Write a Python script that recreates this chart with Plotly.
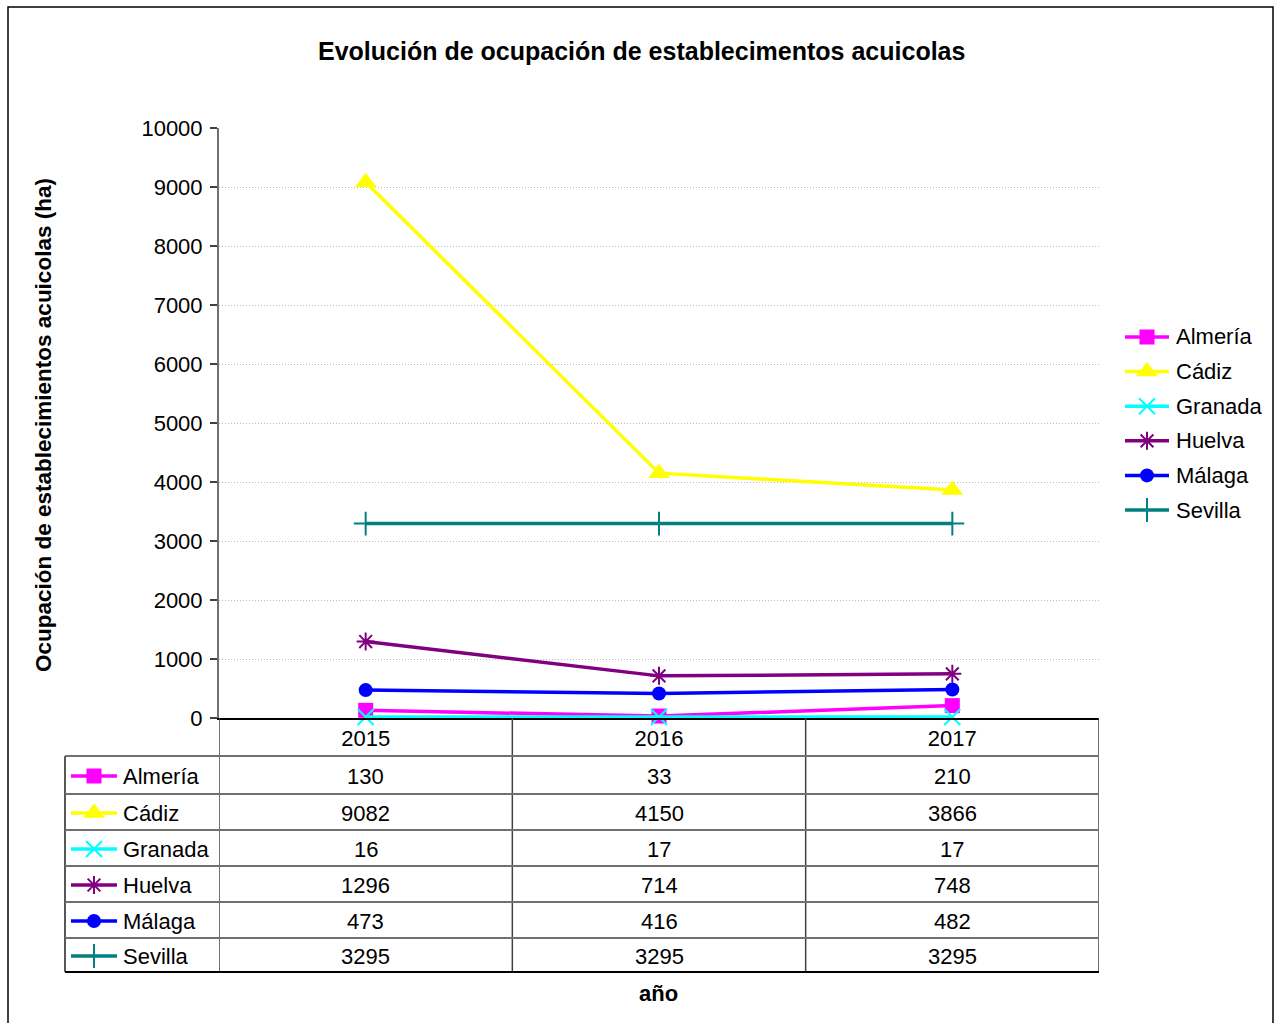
import plotly.graph_objects as go

# ---------------- data ----------------
years = ["2015", "2016", "2017"]
provinces = ["Almería", "Cádiz", "Granada", "Huelva", "Málaga", "Sevilla"]
almeria = [130, 33, 210]
cadiz = [9082, 4150, 3866]
granada = [16, 17, 17]
huelva = [1296, 714, 748]
malaga = [473, 416, 482]
sevilla = [3295, 3295, 3295]
series = [almeria, cadiz, granada, huelva, malaga, sevilla]

colors = ["#FF00FF", "#FFFF00", "#00FFFF", "#800080", "#0000FF", "#008080"]
symbols = ["square", "triangle-up", "x-thin", "asterisk", "circle", "cross-thin"]
msizes = [15, 19, 16, 15, 14, 17]
outline_only = [False, False, True, True, False, True]

title_text = "Evolución de ocupación de establecimentos acuicolas"
ytitle_text = "Ocupación de establecimientos acuicolas (ha)"
xtitle_text = "año"

# ---------------- layout helpers ----------------
W, H = 1277, 1023
FONT = "Liberation Sans, Arial, sans-serif"
TXT = 22


def px(x):
    return x / W


def py(y):
    return 1 - y / H


plot_left, plot_right, plot_top, plot_bottom = 219, 1099, 128, 718
row_bounds = [756, 794, 830, 866, 902, 938, 972]
table_left = 65


def marker_style(i):
    if outline_only[i]:
        return dict(symbol=symbols[i], size=msizes[i], color=colors[i],
                    line=dict(color=colors[i], width=2))
    return dict(symbol=symbols[i], size=msizes[i], color=colors[i],
                line=dict(width=0))


fig = go.Figure()

for i, name in enumerate(provinces):
    fig.add_trace(go.Scatter(
        x=years, y=series[i], name=name, mode="lines+markers",
        line=dict(color=colors[i], width=3.5),
        marker=marker_style(i), cliponaxis=False, showlegend=False,
        xaxis="x", yaxis="y",
    ))

shapes = []
annotations = []

# outer border
shapes.append(dict(type="rect", xref="paper", yref="paper",
                   x0=px(8), x1=px(1273), y0=py(1030), y1=py(7),
                   line=dict(color="black", width=1.5)))

# table vertical lines
for xv in [-0.5, 0.5, 1.5, 2.5]:
    shapes.append(dict(type="line", xref="x", yref="paper", x0=xv, x1=xv,
                       y0=py(plot_bottom), y1=py(row_bounds[-1]),
                       line=dict(color="#404040", width=1.5)))
shapes.append(dict(type="line", xref="paper", yref="paper",
                   x0=px(table_left), x1=px(table_left),
                   y0=py(row_bounds[0]), y1=py(row_bounds[-1]),
                   line=dict(color="#202020", width=1.5)))
# table horizontal lines
for k, yb in enumerate(row_bounds):
    last = k == len(row_bounds) - 1
    shapes.append(dict(type="line", xref="paper", yref="paper",
                       x0=px(table_left), x1=px(plot_right), y0=py(yb), y1=py(yb),
                       line=dict(color="black" if last else "#707070",
                                 width=2 if last else 1.8)))

key_traces = []

# table rows: keys, labels, values
for i, name in enumerate(provinces):
    yc = (row_bounds[i] + row_bounds[i + 1]) / 2 + 1
    shapes.append(dict(type="line", xref="paper", yref="paper",
                       x0=px(71), x1=px(117), y0=py(yc), y1=py(yc),
                       line=dict(color=colors[i], width=3.5)))
    key_traces.append((i, 94, yc))
    annotations.append(dict(xref="paper", yref="paper", x=px(121), y=py(yc),
                            text=name, showarrow=False, xanchor="left", yanchor="middle",
                            font=dict(family=FONT, size=TXT, color="black")))
    for j, v in enumerate(series[i]):
        annotations.append(dict(xref="x", yref="paper", x=j, y=py(yc),
                                text=str(v), showarrow=False, xanchor="center",
                                yanchor="middle",
                                font=dict(family=FONT, size=TXT, color="black")))

# right-hand legend
for i, name in enumerate(provinces):
    yc = 337 + 34.6 * i
    shapes.append(dict(type="line", xref="paper", yref="paper",
                       x0=px(1125), x1=px(1169), y0=py(yc), y1=py(yc),
                       line=dict(color=colors[i], width=3.5)))
    key_traces.append((i, 1147, yc))
    annotations.append(dict(xref="paper", yref="paper", x=px(1174), y=py(yc),
                            text=name, showarrow=False, xanchor="left", yanchor="middle",
                            font=dict(family=FONT, size=TXT, color="black")))

for i, kx, ky in key_traces:
    fig.add_trace(go.Scatter(x=[kx], y=[ky], mode="markers", marker=marker_style(i),
                             showlegend=False, hoverinfo="skip",
                             xaxis="x2", yaxis="y2", cliponaxis=False))

# titles
annotations.append(dict(xref="paper", yref="paper", x=px(641), y=py(51),
                        text="<b>" + title_text + "</b>", showarrow=False,
                        xanchor="center", yanchor="middle",
                        font=dict(family=FONT, size=25, color="black")))
annotations.append(dict(xref="paper", yref="paper", x=px(43), y=py(425),
                        text="<b>" + ytitle_text + "</b>", showarrow=False,
                        textangle=-90, xanchor="center", yanchor="middle",
                        font=dict(family=FONT, size=22.5, color="black")))
annotations.append(dict(xref="paper", yref="paper", x=px(658), y=py(993),
                        text="<b>" + xtitle_text + "</b>", showarrow=False,
                        xanchor="center", yanchor="middle",
                        font=dict(family=FONT, size=TXT, color="black")))

fig.update_layout(
    width=W, height=H,
    margin=dict(l=0, r=0, t=0, b=0, pad=0, autoexpand=False),
    paper_bgcolor="white", plot_bgcolor="rgba(0,0,0,0)",
    font=dict(family=FONT, size=TXT, color="black"),
    showlegend=False,
    xaxis=dict(
        domain=[px(plot_left), px(plot_right)], type="category",
        range=[-0.5, 2.5], showgrid=False, zeroline=False, automargin=False,
        showline=True, linecolor="black", linewidth=1.5,
        ticks="", ticklabelstandoff=0,
        tickfont=dict(family=FONT, size=TXT, color="black"),
        anchor="y",
    ),
    yaxis=dict(
        domain=[py(plot_bottom), py(plot_top)], range=[0, 10000], dtick=1000,
        tickformat="d", automargin=False,
        showgrid=True, gridcolor="#bdbdbd", griddash="1px,2px", gridwidth=1,
        zeroline=False, showline=True, linecolor="#707070", linewidth=2,
        ticks="outside", ticklen=7, tickwidth=1.5, tickcolor="#404040",
        ticklabelstandoff=3,
        tickfont=dict(family=FONT, size=TXT, color="black"),
        anchor="x",
    ),
    xaxis2=dict(domain=[0, 1], range=[0, W], visible=False, anchor="y2",
                fixedrange=True, automargin=False),
    yaxis2=dict(domain=[0, 1], range=[H, 0], visible=False, anchor="x2",
                fixedrange=True, automargin=False),
    shapes=shapes,
    annotations=annotations,
)

fig.write_html(
    "out.html",
    config={"displayModeBar": False},
    post_script="document.body.style.margin='0';document.body.style.overflow='hidden';",
)
